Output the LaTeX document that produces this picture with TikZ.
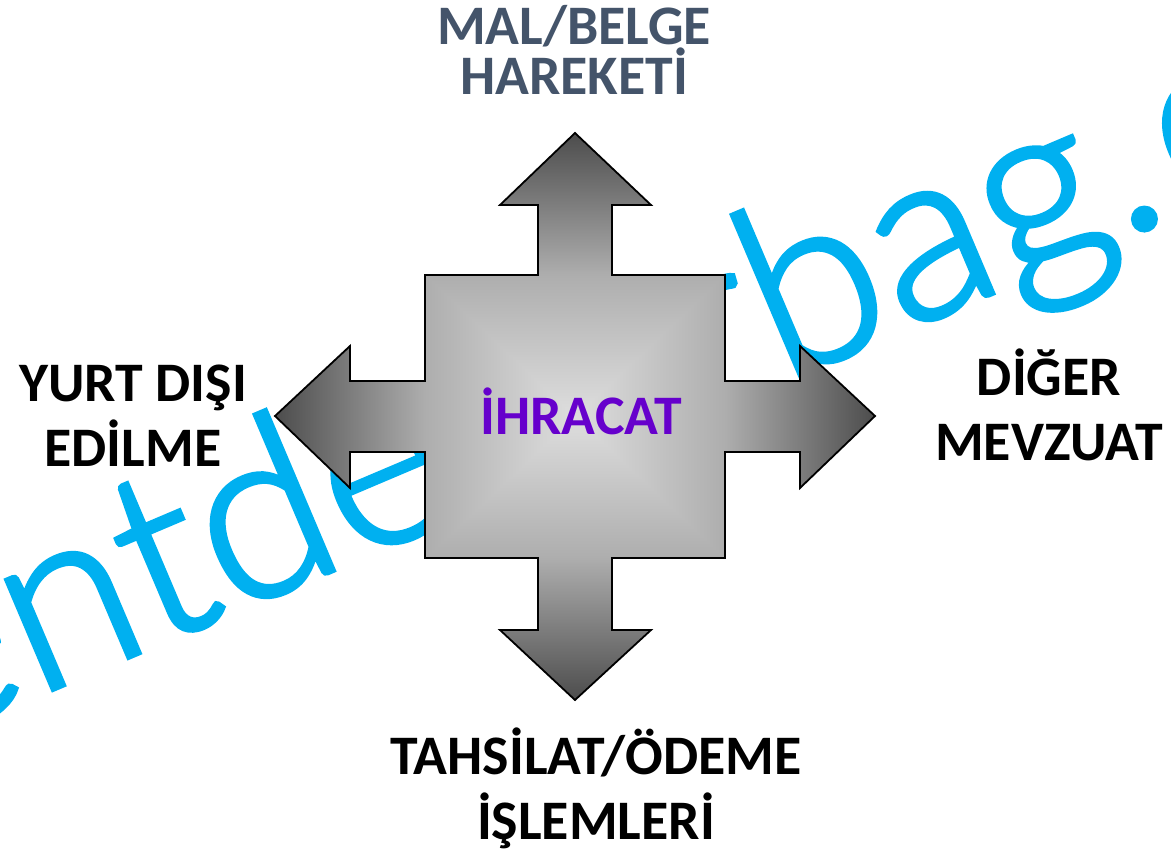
\documentclass[tikz,border=0pt]{standalone}
\usepackage{fontspec}
\setmainfont{Carlito}
\newfontfamily\wmfont[FakeBold=2]{Lato Light}
\pgfdeclarefunctionalshading{crossfade}{\pgfpointorigin}{\pgfpoint{100bp}{100bp}}{}{
  50 sub abs 25 div exch 50 sub abs 25 div
  2 copy gt {pop} {exch pop} ifelse
  dup 0.5 lt {0.38 mul neg 0.87 add} {0.5 sub 0.76 mul neg 0.68 add} ifelse
  dup dup
}
\definecolor{wmblue}{HTML}{00B0F0}
\definecolor{slatehead}{HTML}{44546A}
\definecolor{centerpurple}{HTML}{6600CC}
\tikzset{
  watermark/.style={inner sep=0pt,text=wmblue,font=\wmfont\fontsize{240}{240}\selectfont,rotate=23,anchor=base west},
  sidelabel/.style={align=center,font=\fontsize{56}{65}\selectfont\bfseries,text=black,inner sep=0pt},
  toplabel/.style={align=center,font=\fontsize{56}{47}\selectfont\bfseries,text=slatehead,inner sep=0pt},
  centerlabel/.style={font=\fontsize{56}{60}\selectfont\bfseries,text=centerpurple,inner sep=0pt},
  crossshape/.style={draw=black,line width=1.8bp,line join=miter,shading=crossfade}
}
\begin{document}
\begin{tikzpicture}[x=1bp,y=-1bp]
\useasboundingbox (0,0) rectangle (1171,852);
\begin{scope}
\clip (0,0) rectangle (1171,852);
\node[watermark] (wmleft) at (-80,746) {entde};
\node[watermark] (wmright) at (704,416) {rbag.\kern10bp c};
\end{scope}
\path[crossshape,shade]
  (575,133) -- (651,205) -- (612,205) -- (612,275) -- (725,275) -- (725,381)
  -- (800,381) -- (800,346) -- (875,416) -- (800,488) -- (800,452) -- (725,452)
  -- (725,558) -- (612,558) -- (612,630) -- (651,630) -- (575,700) -- (500,630)
  -- (538,630) -- (538,558) -- (425,558) -- (425,452) -- (350,452) -- (350,488)
  -- (275,416) -- (350,346) -- (350,381) -- (425,381) -- (425,275) -- (538,275)
  -- (538,205) -- (500,205) -- cycle;
\node[toplabel] (top) at (574,50) {MAL/BELGE\\HAREKETİ};
\node[sidelabel] (left) at (133,416) {YURT DIŞI\\EDİLME};
\node[sidelabel] (right) at (1049,405) {DİĞER\\MEVZUAT};
\node[sidelabel] (bottom) at (596,788) {TAHSİLAT/ÖDEME\\İŞLEMLERİ};
\node[centerlabel] (center) at (581,411) {İHRACAT};
\end{tikzpicture}
\end{document}
